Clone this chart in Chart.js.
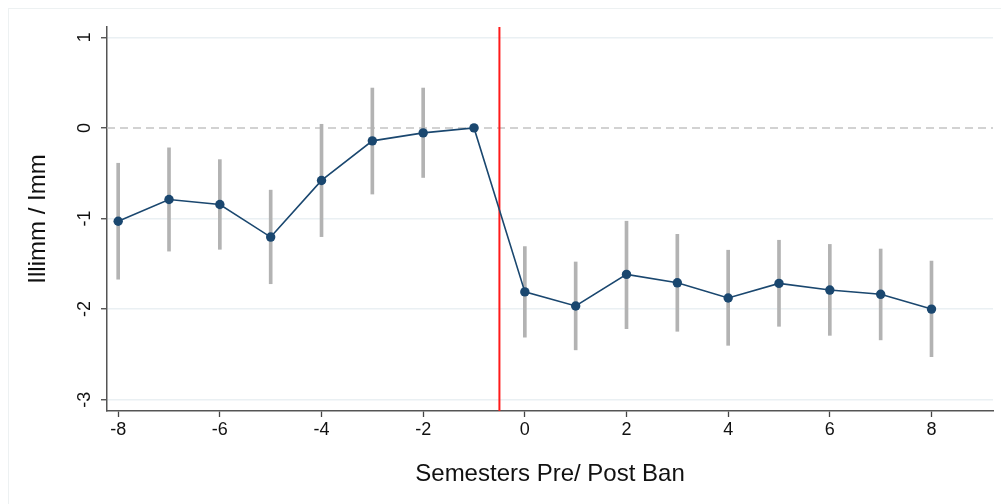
<!DOCTYPE html>
<html>
<head>
<meta charset="utf-8">
<script src="https://cdn.jsdelivr.net/npm/chart.js@4/dist/chart.umd.min.js"></script>
<style>
  html, body { margin: 0; padding: 0; background: #ffffff; overflow: hidden; }
  #frame { position: absolute; left: 8px; top: 8px; width: 1200px; height: 700px; border: 1px solid #edf1f2; box-sizing: border-box; }
  #wrap { position: absolute; left: 0; top: 0; width: 1001px; height: 504px; }
</style>
</head>
<body>
<div id="frame"></div>
<div id="wrap"><canvas id="c" width="1001" height="504"></canvas></div>
<script>
// ---- data ----
const semesters = [-8, -7, -6, -5, -4, -3, -2, -1, 0, 1, 2, 3, 4, 5, 6, 7, 8];
const estimates = [-1.03, -0.79, -0.845, -1.205, -0.58, -0.143, -0.055, 0, -1.81, -1.966, -1.617, -1.71, -1.878, -1.716, -1.79, -1.837, -2.0];
const ciLower   = [-1.67, -1.36, -1.34, -1.72, -1.20, -0.73, -0.547, null, -2.31, -2.45, -2.216, -2.245, -2.40, -2.19, -2.29, -2.34, -2.525];
const ciUpper   = [-0.39, -0.22, -0.35, -0.687, 0.04, 0.44, 0.44, null, -1.31, -1.48, -1.03, -1.175, -1.35, -1.24, -1.286, -1.337, -1.47];
const xTickValues = [-8, -6, -4, -2, 0, 2, 4, 6, 8];
const yTickValues = [-3, -2, -1, 0, 1];
const banAt = -0.5;
const xTitle = 'Semesters Pre/ Post Ban';
const yTitle = 'Illimm / Imm';

// ---- axis limits ----
const xMin = -8.22, xMax = 9.21;
const yMin = -3.125, yMax = 1.114;

const navy = '#1a476f';
const FONT = '"Liberation Sans", Arial, sans-serif';

const pointData = semesters.map((s, i) => ({ x: s, y: estimates[i] }));
const ciData = semesters.map((s, i) => ciLower[i] === null ? null : ({ x: s, y: [ciLower[i], ciUpper[i]] })).filter(d => d);

const yLabelPlugin = {
  id: 'yLabels',
  afterDraw(chart) {
    const sc = chart.scales.y;
    const ctx = chart.ctx;
    ctx.save();
    ctx.font = '18px ' + FONT;
    ctx.fillStyle = '#111';
    ctx.textAlign = 'center';
    ctx.textBaseline = 'middle';
    sc.ticks.forEach(t => {
      const py = sc.getPixelForValue(t.value);
      ctx.save();
      ctx.translate(85.5, py);
      ctx.rotate(-Math.PI / 2);
      ctx.fillText(String(t.value), 0, 0);
      ctx.restore();
    });
    ctx.restore();
  }
};

new Chart(document.getElementById('c'), {
  type: 'line',
  data: {
    datasets: [
      {
        type: 'line',
        data: pointData,
        borderColor: navy,
        backgroundColor: navy,
        borderWidth: 1.6,
        pointRadius: 4.7,
        pointBackgroundColor: navy,
        pointBorderColor: navy,
        pointBorderWidth: 0,
        tension: 0,
        order: 0
      },
      {
        type: 'line',
        data: [{ x: banAt, y: yMax }, { x: banAt, y: yMin }],
        borderColor: '#ff1a1a',
        borderWidth: 2,
        pointRadius: 0,
        order: 1
      },
      {
        type: 'bar',
        data: ciData,
        backgroundColor: '#b3b3b3',
        borderWidth: 0,
        barThickness: 3,
        grouped: false,
        order: 2
      },
      {
        type: 'line',
        data: [{ x: xMin, y: 0 }, { x: xMax, y: 0 }],
        borderColor: '#c4c4c4',
        borderWidth: 1.5,
        borderDash: [8, 5],
        pointRadius: 0,
        order: 3
      }
    ]
  },
  options: {
    responsive: false,
    animation: false,
    events: [],
    layout: { padding: { top: 27, right: 8, left: 0, bottom: 0 } },
    plugins: { legend: { display: false }, tooltip: { enabled: false } },
    scales: {
      x: {
        type: 'linear',
        min: xMin,
        max: xMax,
        offset: false,
        afterBuildTicks: sc => { sc.ticks = xTickValues.map(v => ({ value: v })); },
        afterFit: sc => { sc.height = 93; },
        grid: { offset: false, drawOnChartArea: false, drawTicks: true, tickLength: 6, tickColor: '#444', tickWidth: 1.3 },
        border: { color: '#555', width: 1.5 },
        ticks: { font: { family: FONT, size: 18 }, color: '#111', padding: 2, maxRotation: 0, autoSkip: false },
        title: { display: true, text: xTitle, font: { family: FONT, size: 24 }, color: '#111', padding: { top: 0, bottom: 15 } }
      },
      y: {
        type: 'linear',
        min: yMin,
        max: yMax,
        afterBuildTicks: sc => { sc.ticks = yTickValues.map(v => ({ value: v })); },
        afterFit: sc => { sc.width = 107; },
        grid: {
          offset: false,
          drawTicks: true,
          tickLength: 6,
          tickColor: '#444',
          tickWidth: 1.3,
          lineWidth: 1.5,
          color: c => (c.tick && c.tick.value === 0) ? 'rgba(0,0,0,0)' : '#eaf0f3'
        },
        border: { color: '#555', width: 1.5 },
        ticks: { display: false },
        title: { display: true, text: yTitle, font: { family: FONT, size: 24 }, color: '#111', padding: { top: 24, bottom: 0 } }
      }
    }
  },
  plugins: [yLabelPlugin]
});
</script>
</body>
</html>
